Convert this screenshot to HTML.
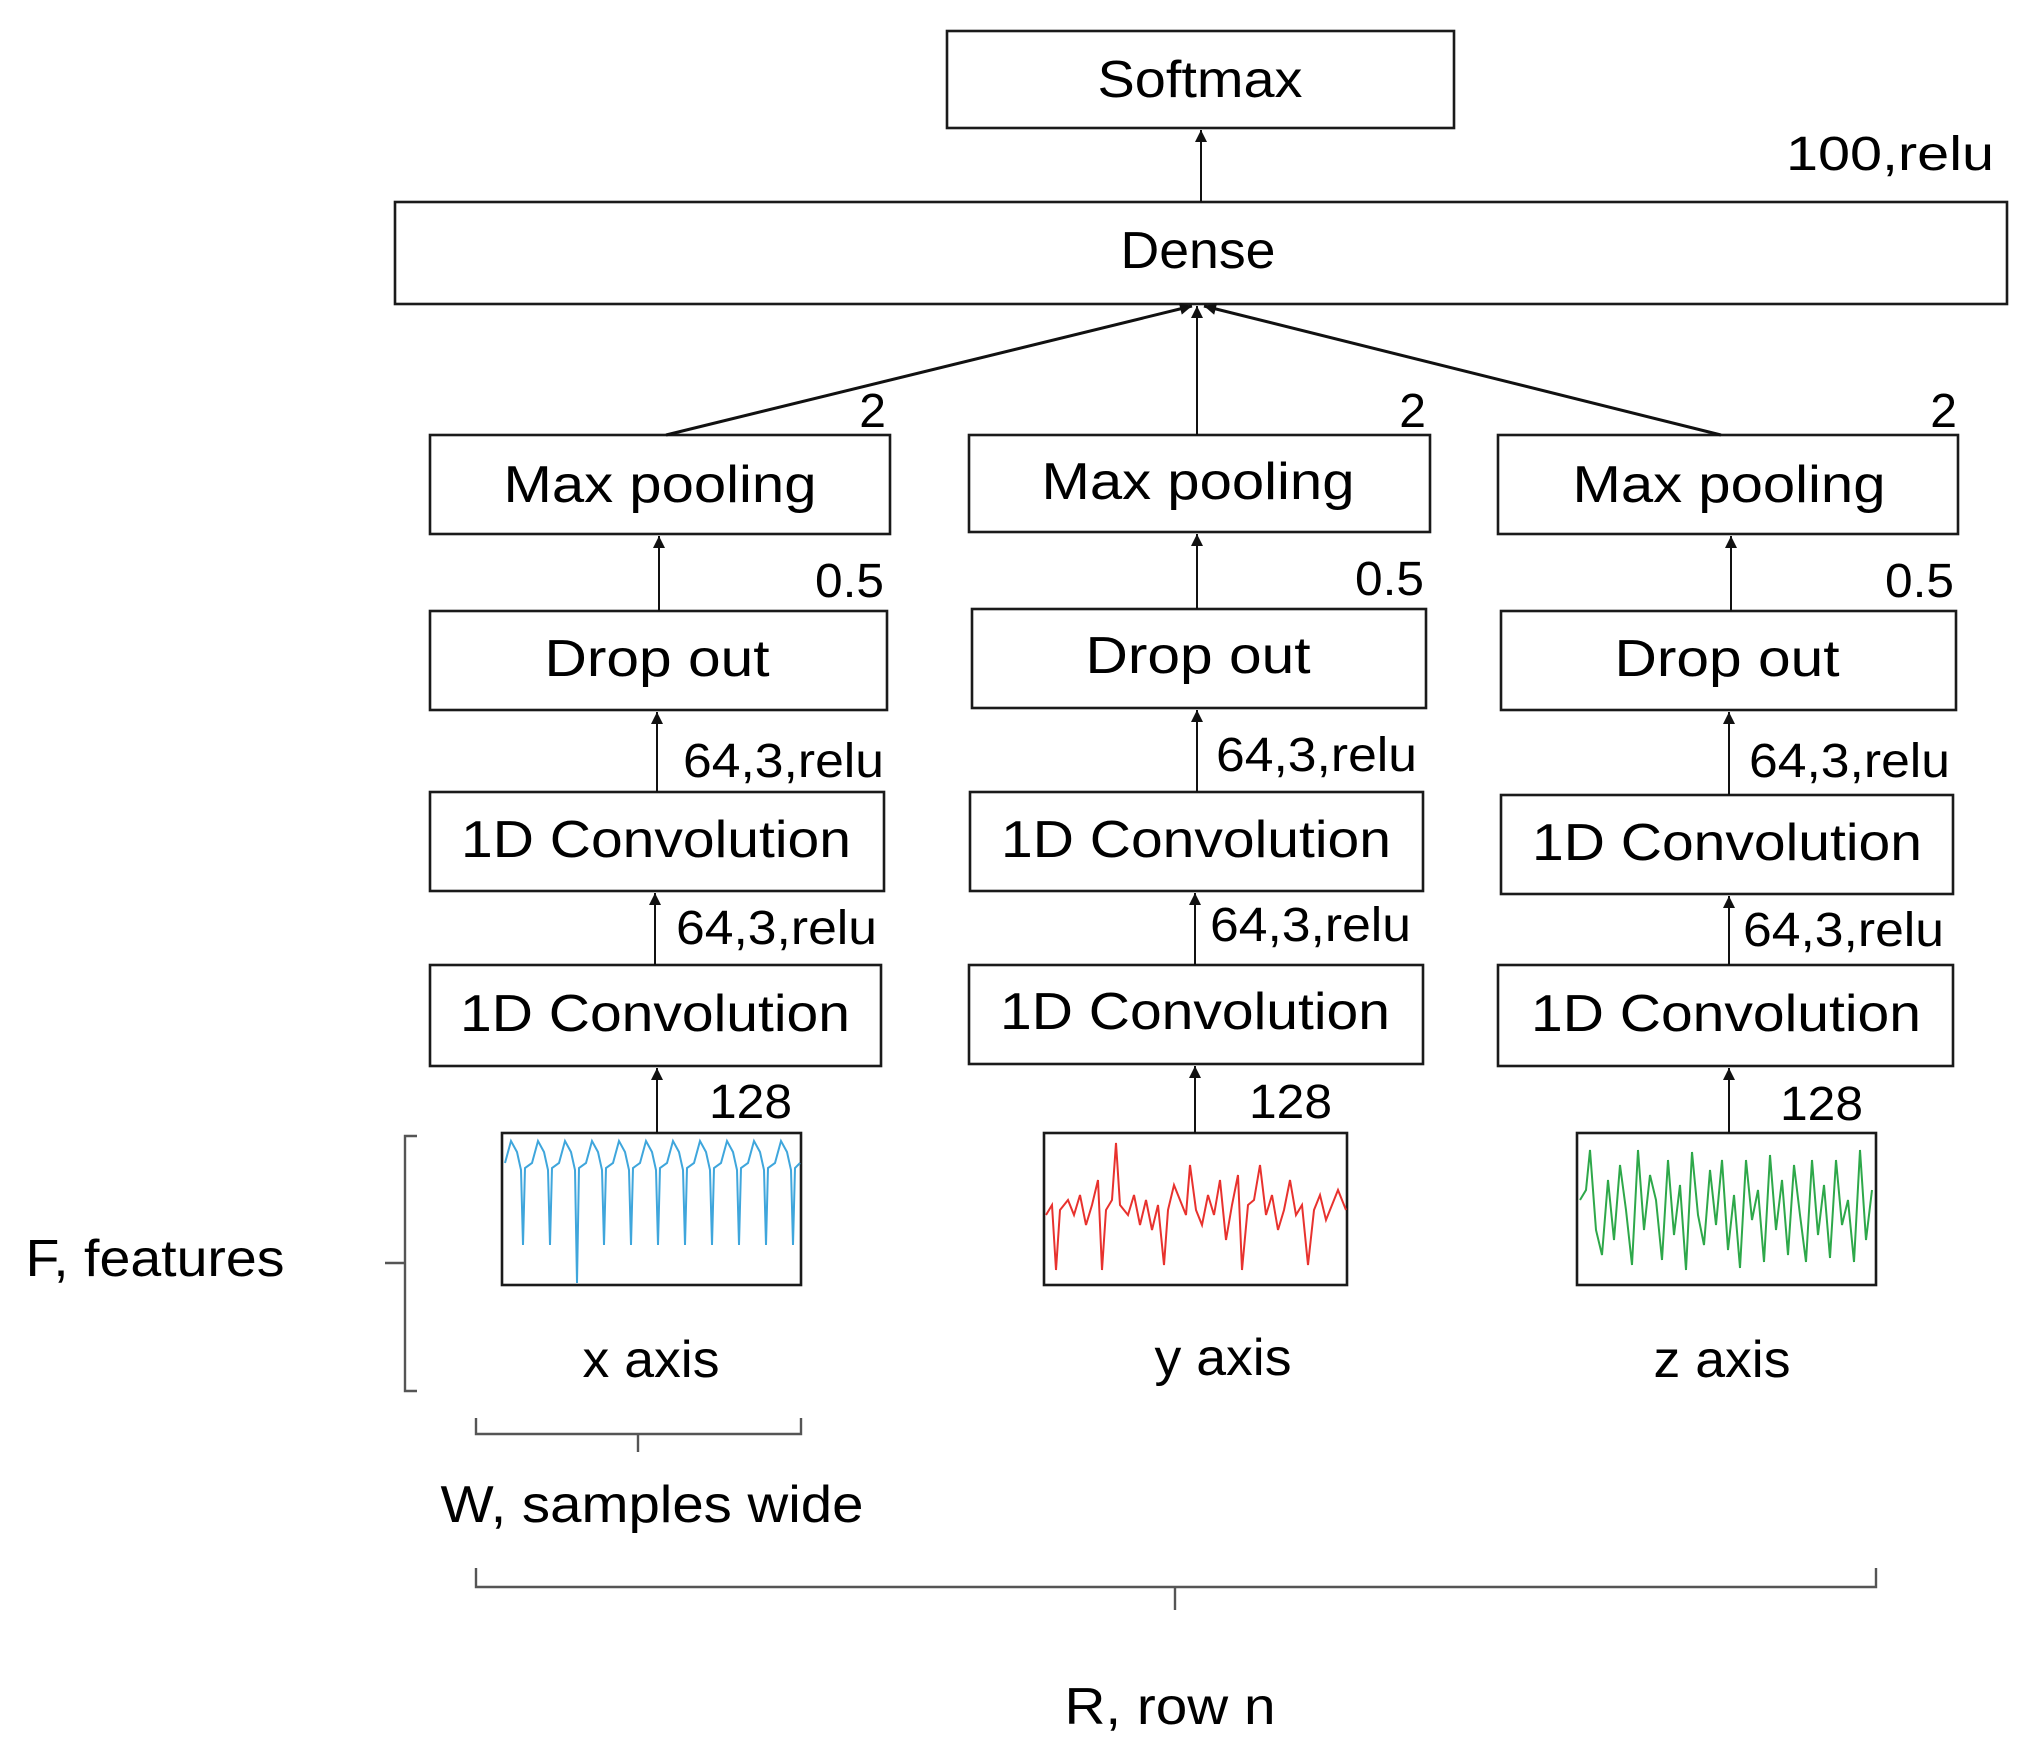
<!DOCTYPE html>
<html><head><meta charset="utf-8"><style>html,body{margin:0;padding:0;background:#fff}svg{display:block}</style></head>
<body>
<svg width="2029" height="1757" viewBox="0 0 2029 1757" xmlns="http://www.w3.org/2000/svg" font-family="'Liberation Sans', sans-serif" fill="#000">
<defs><marker id="a" viewBox="0 0 10 10" refX="10" refY="5" markerWidth="7" markerHeight="9" markerUnits="userSpaceOnUse" orient="auto"><path d="M0,0 L10,5 L0,10 z" fill="#111"/></marker>
<marker id="b" viewBox="0 0 10 10" refX="10" refY="5" markerWidth="16" markerHeight="12" orient="auto" markerUnits="userSpaceOnUse"><path d="M0,0 L10,5 L0,10 z" fill="#111"/></marker></defs>
<g fill="none" stroke="#1a1a1a" stroke-width="2.6">
<rect x="947" y="31" width="507" height="97"/>
<rect x="395" y="202" width="1612" height="102"/>
<rect x="430" y="435" width="460" height="99"/><rect x="969" y="435" width="461" height="97"/><rect x="1498" y="435" width="460" height="99"/>
<rect x="430" y="611" width="457" height="99"/><rect x="972" y="609" width="454" height="99"/><rect x="1501" y="611" width="455" height="99"/>
<rect x="430" y="792" width="454" height="99"/><rect x="970" y="792" width="453" height="99"/><rect x="1501" y="795" width="452" height="99"/>
<rect x="430" y="965" width="451" height="101"/><rect x="969" y="965" width="454" height="99"/><rect x="1498" y="965" width="455" height="101"/>
<rect x="502" y="1133" width="299" height="152"/><rect x="1044" y="1133" width="303" height="152"/><rect x="1577" y="1133" width="299" height="152"/>
</g>
<g stroke="#111" stroke-width="2" fill="none">
<line x1="1201" y1="202" x2="1201" y2="130" marker-end="url(#b)"/>
<line x1="666" y1="435" x2="1192" y2="306" marker-end="url(#b)" stroke-width="3"/>
<line x1="1197" y1="435" x2="1197" y2="306" marker-end="url(#b)"/>
<line x1="1721" y1="435" x2="1204" y2="306" marker-end="url(#b)" stroke-width="3"/>
<line x1="659" y1="611" x2="659" y2="536" marker-end="url(#b)"/><line x1="1197" y1="609" x2="1197" y2="534" marker-end="url(#b)"/><line x1="1731" y1="611" x2="1731" y2="536" marker-end="url(#b)"/>
<line x1="657" y1="792" x2="657" y2="712" marker-end="url(#b)"/><line x1="1197" y1="792" x2="1197" y2="710" marker-end="url(#b)"/><line x1="1729" y1="795" x2="1729" y2="712" marker-end="url(#b)"/>
<line x1="655" y1="965" x2="655" y2="893" marker-end="url(#b)"/><line x1="1195" y1="965" x2="1195" y2="893" marker-end="url(#b)"/><line x1="1729" y1="965" x2="1729" y2="896" marker-end="url(#b)"/>
<line x1="657" y1="1133" x2="657" y2="1068" marker-end="url(#b)"/><line x1="1195" y1="1133" x2="1195" y2="1066" marker-end="url(#b)"/><line x1="1729" y1="1133" x2="1729" y2="1068" marker-end="url(#b)"/>
</g>
<g stroke="#555" stroke-width="2.4" fill="none">
<path d="M417,1136 H405 V1391 H417 M405,1263 H385"/>
<path d="M476,1418 V1434 H801 V1418 M638,1434 V1452"/>
<path d="M476,1568 V1587 H1876 V1568 M1175,1587 V1610"/>
</g>
<polyline fill="none" stroke="#3fa6dc" stroke-width="2" points="505,1163 511,1141 517,1152 521,1170 523,1245 525,1168 532,1163 538,1141 544,1152 548,1170 550,1245 552,1168 559,1163 565,1141 571,1152 575,1170 577,1283 579,1168 586,1163 592,1141 598,1152 602,1170 604,1245 606,1168 613,1163 619,1141 625,1152 629,1170 631,1245 633,1168 640,1163 646,1141 652,1152 656,1170 658,1245 660,1168 667,1163 673,1141 679,1152 683,1170 685,1245 687,1168 694,1163 700,1141 706,1152 710,1170 712,1245 714,1168 721,1163 727,1141 733,1152 737,1170 739,1245 741,1168 748,1163 754,1141 760,1152 764,1170 766,1245 768,1168 775,1163 781,1141 787,1152 791,1170 793,1245 795,1168 800,1163"/>
<polyline fill="none" stroke="#e8322e" stroke-width="2" points="1046,1215 1052,1205 1056,1270 1060,1210 1068,1200 1074,1215 1080,1195 1086,1225 1092,1205 1098,1180 1102,1270 1106,1210 1112,1200 1116,1143 1120,1205 1128,1215 1134,1195 1140,1225 1146,1200 1152,1230 1158,1205 1164,1265 1168,1210 1174,1185 1180,1200 1186,1215 1190,1165 1196,1210 1202,1225 1208,1195 1214,1215 1220,1180 1226,1240 1232,1205 1238,1175 1242,1270 1248,1205 1254,1200 1260,1165 1266,1215 1272,1195 1278,1230 1284,1210 1290,1180 1296,1215 1302,1205 1308,1265 1314,1210 1320,1195 1326,1220 1332,1205 1338,1190 1346,1210"/>
<polyline fill="none" stroke="#2ea84a" stroke-width="2" points="1580,1200 1586,1190 1590,1150 1596,1230 1602,1255 1608,1180 1614,1240 1620,1165 1626,1210 1632,1265 1638,1150 1644,1230 1650,1175 1656,1200 1662,1260 1668,1160 1674,1235 1680,1185 1686,1270 1692,1152 1698,1215 1704,1245 1710,1170 1716,1225 1722,1160 1728,1250 1734,1195 1740,1268 1746,1160 1752,1220 1758,1190 1764,1262 1770,1155 1776,1230 1782,1180 1788,1255 1794,1165 1800,1215 1806,1262 1812,1160 1818,1235 1824,1185 1830,1258 1836,1160 1842,1225 1848,1200 1854,1262 1860,1150 1866,1240 1872,1190"/>
<g font-size="52" text-anchor="middle" lengthAdjust="spacingAndGlyphs">
<text x="1200" y="97" textLength="205" lengthAdjust="spacingAndGlyphs">Softmax</text>
<text x="1198" y="268" textLength="155" lengthAdjust="spacingAndGlyphs">Dense</text>
<text x="660" y="502" textLength="313" lengthAdjust="spacingAndGlyphs">Max pooling</text>
<text x="1198" y="499" textLength="313" lengthAdjust="spacingAndGlyphs">Max pooling</text>
<text x="1729" y="502" textLength="313" lengthAdjust="spacingAndGlyphs">Max pooling</text>
<text x="657" y="676" textLength="225" lengthAdjust="spacingAndGlyphs">Drop out</text>
<text x="1198" y="673" textLength="225" lengthAdjust="spacingAndGlyphs">Drop out</text>
<text x="1727" y="676" textLength="225" lengthAdjust="spacingAndGlyphs">Drop out</text>
<text x="656" y="857" textLength="390" lengthAdjust="spacingAndGlyphs">1D Convolution</text>
<text x="1196" y="857" textLength="390" lengthAdjust="spacingAndGlyphs">1D Convolution</text>
<text x="1727" y="860" textLength="390" lengthAdjust="spacingAndGlyphs">1D Convolution</text>
<text x="655" y="1031" textLength="390" lengthAdjust="spacingAndGlyphs">1D Convolution</text>
<text x="1195" y="1029" textLength="390" lengthAdjust="spacingAndGlyphs">1D Convolution</text>
<text x="1726" y="1031" textLength="390" lengthAdjust="spacingAndGlyphs">1D Convolution</text>
<text x="651" y="1377" textLength="137" lengthAdjust="spacingAndGlyphs">x axis</text>
<text x="1223" y="1375" textLength="137" lengthAdjust="spacingAndGlyphs">y axis</text>
<text x="1722" y="1377" textLength="137" lengthAdjust="spacingAndGlyphs">z axis</text>
<text x="155" y="1276" textLength="259" lengthAdjust="spacingAndGlyphs">F, features</text>
<text x="652" y="1522" textLength="423" lengthAdjust="spacingAndGlyphs">W, samples wide</text>
<text x="1170" y="1724" textLength="211" lengthAdjust="spacingAndGlyphs">R, row n</text>
</g>
<g font-size="48" text-anchor="end">
<text x="1994" y="170" textLength="208" lengthAdjust="spacingAndGlyphs">100,relu</text>
<text x="886" y="427">2</text><text x="1426" y="427">2</text><text x="1957" y="427">2</text>
<text x="884" y="597" textLength="69" lengthAdjust="spacingAndGlyphs">0.5</text><text x="1424" y="595" textLength="69" lengthAdjust="spacingAndGlyphs">0.5</text><text x="1954" y="597" textLength="69" lengthAdjust="spacingAndGlyphs">0.5</text>
<text x="884" y="777" textLength="201" lengthAdjust="spacingAndGlyphs">64,3,relu</text><text x="1417" y="771" textLength="201" lengthAdjust="spacingAndGlyphs">64,3,relu</text><text x="1950" y="777" textLength="201" lengthAdjust="spacingAndGlyphs">64,3,relu</text>
<text x="877" y="944" textLength="201" lengthAdjust="spacingAndGlyphs">64,3,relu</text><text x="1411" y="941" textLength="201" lengthAdjust="spacingAndGlyphs">64,3,relu</text><text x="1944" y="946" textLength="201" lengthAdjust="spacingAndGlyphs">64,3,relu</text>
<text x="792" y="1118" textLength="83" lengthAdjust="spacingAndGlyphs">128</text><text x="1332" y="1118" textLength="83" lengthAdjust="spacingAndGlyphs">128</text><text x="1863" y="1120" textLength="83" lengthAdjust="spacingAndGlyphs">128</text>
</g>
</svg>
</body></html>
